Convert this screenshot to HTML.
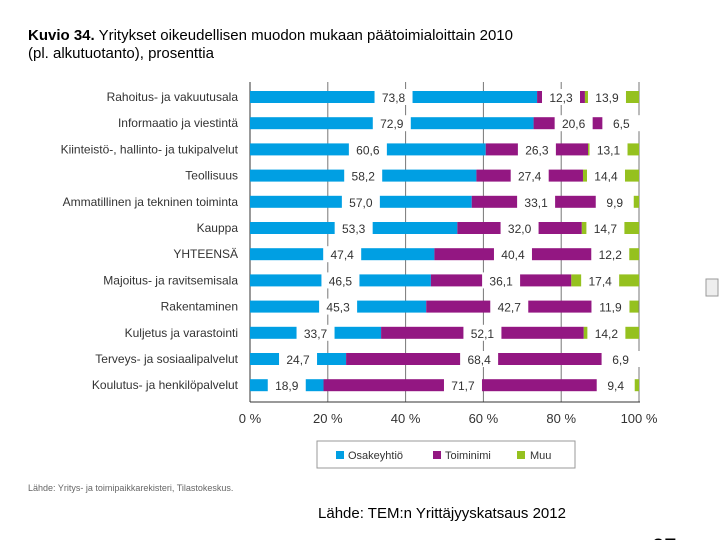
<!DOCTYPE html>
<html><head><meta charset="utf-8"><style>
body{margin:0;background:#fff;width:720px;height:540px;overflow:hidden;font-family:"Liberation Sans",sans-serif}
svg{position:absolute;left:0;top:0}
</style></head><body>
<svg id="c" width="720" height="540">
<text x="28" y="40" font-size="15" fill="#000"><tspan font-weight="bold">Kuvio 34.</tspan> Yritykset oikeudellisen muodon mukaan päätoimialoittain 2010</text>
<text x="28" y="58" font-size="15" fill="#000">(pl. alkutuotanto), prosenttia</text>
<g id="plot"></g>
<rect x="317" y="441" width="258" height="27" fill="#fff" stroke="#999"/>
<rect x="336" y="451" width="8" height="8" fill="#009fe3"/>
<text x="348" y="459" font-size="11" fill="#333">Osakeyhtiö</text>
<rect x="433" y="451" width="8" height="8" fill="#931782"/>
<text x="445" y="459" font-size="11" fill="#333">Toiminimi</text>
<rect x="517" y="451" width="8" height="8" fill="#95c11f"/>
<text x="530" y="459" font-size="11" fill="#333">Muu</text>
<text x="28" y="491" font-size="9" fill="#666">Lähde: Yritys- ja toimipaikkarekisteri, Tilastokeskus.</text>
<text x="442" y="518" font-size="15" fill="#000" text-anchor="middle">Lähde: TEM:n Yrittäjyyskatsaus 2012</text>
<rect x="706" y="279" width="12" height="17" fill="#eee" stroke="#999"/>
<text x="652" y="554" font-size="22" fill="#000">27</text>
</svg>
<script>
const categories=["Rahoitus- ja vakuutustoiminta","Informaatio ja viestintä","Kiinteistö-, hallinto- ja tukipalvelut","Teollisuus","Ammatillinen ja tekninen toiminta","Kauppa","YHTEENSÄ","Majoitus- ja ravitsemistoiminta","Rakentaminen","Kuljetus ja varastointi","Terveys- ja sosiaalipalvelut","Koulutus- ja henkilöpalvelut"];
const osakeyhtio=[73.8,72.9,60.6,58.2,57.0,53.3,47.4,46.5,45.3,33.7,24.7,18.9];
const toiminimi=[12.3,20.6,26.3,27.4,33.1,32.0,40.4,36.1,42.7,52.1,68.4,71.7];
const muu=[13.9,6.5,13.1,14.4,9.9,14.7,12.2,17.4,11.9,14.2,6.9,9.4];
const ticks=[0,20,40,60,80,100];
const labels=["Rahoitus- ja vakuutusala","Informaatio ja viestintä","Kiinteistö-, hallinto- ja tukipalvelut","Teollisuus","Ammatillinen ja tekninen toiminta","Kauppa","YHTEENSÄ","Majoitus- ja ravitsemisala","Rakentaminen","Kuljetus ja varastointi","Terveys- ja sosiaalipalvelut","Koulutus- ja henkilöpalvelut"];
const NS="http://www.w3.org/2000/svg";
const x0=250,x1=639,yTop=84,step=26.2;
const xs=v=>x0+(x1-x0)*v/100;
const yc=i=>yTop+13+i*step;
const g=document.getElementById('plot');
function mk(t,a){const e=document.createElementNS(NS,t);for(const k in a)e.setAttribute(k,a[k]);g.appendChild(e);return e;}
ticks.forEach(t=>{
 const l=mk('line',{x1:xs(t),x2:xs(t),y1:yTop-2,y2:402,stroke:t===0?'#333':'#777','stroke-width':1});
 
 
 const tx=mk('text',{x:xs(t),y:423,'font-size':13,'text-anchor':'middle',fill:'#333'});
 tx.textContent=t+' %';
 
 
});
const series=[[osakeyhtio,'#009fe3','osakeyhtio'],[toiminimi,'#931782','toiminimi'],[muu,'#95c11f','muu']];
categories.forEach((c,i)=>{
 const lb=mk('text',{x:238,y:yc(i)+4,'font-size':12,'text-anchor':'end',fill:'#333'});
 lb.textContent=labels[i];
 
 
 let acc=0;const segs=[];
 series.forEach(([arr,col,nm])=>{
  const v=arr[i];
  const r=mk('rect',{x:xs(acc),y:yc(i)-6,width:Math.max(0,xs(acc+v)-xs(acc)),height:12,fill:col});
  
  
  segs.push([acc,v]);acc+=v;
 });
 segs.forEach(([a,v],k)=>{
  const cx=(xs(a)+xs(a+v))/2-(k===2?5:0);
  const b=mk('rect',{x:cx-19,y:yc(i)-8,width:38,height:16,fill:'#fff'});
  
  
  const t=mk('text',{x:cx,y:yc(i)+5,'font-size':12,'text-anchor':'middle',fill:'#333'});
  t.textContent=v.toFixed(1).replace('.',',');
  
  
 });
});
const ax=mk('line',{x1:x0,x2:x1+1,y1:402,y2:402,stroke:'#333'});


</script>
</body></html>
